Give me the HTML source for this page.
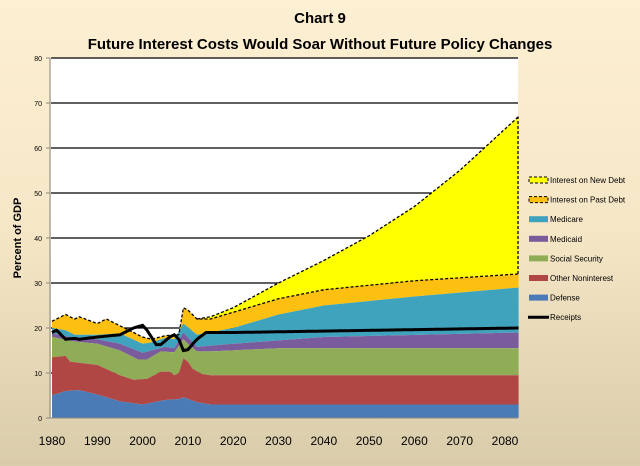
<!DOCTYPE html>
<html><head><meta charset="utf-8"><style>
html,body{margin:0;padding:0}
body{width:640px;height:466px;overflow:hidden;background:linear-gradient(#fdf0d2 0%,#f5e6c6 50%,#d9ccaa 100%);font-family:"Liberation Sans",sans-serif}
</style></head><body>
<svg id="s" width="640" height="466" xmlns="http://www.w3.org/2000/svg" style="position:absolute;left:0;top:0">
<text x="320" y="23" text-anchor="middle" font-size="15" font-weight="bold" font-family="Liberation Sans,sans-serif">Chart 9</text>
<text x="320" y="49" text-anchor="middle" font-size="15" font-weight="bold" font-family="Liberation Sans,sans-serif">Future Interest Costs Would Soar Without Future Policy Changes</text>
<rect x="51" y="58" width="467" height="360" fill="#fff"/>
<g id="grid"></g>
<g id="areas"></g>
<g id="ax"></g>
<text transform="translate(21,238) rotate(-90)" text-anchor="middle" font-size="11" font-weight="bold">Percent of GDP</text>
<g id="leg" font-size="8"></g>
</svg>
<script>
var NS="http://www.w3.org/2000/svg";
function X(y){return 52+(y-1980)*4.53}
function Y(v){return 418-v*4.5}
function el(p,t,a,txt){var e=document.createElementNS(NS,t);for(var k in a)e.setAttribute(k,a[k]);if(txt)e.textContent=txt;document.getElementById(p).appendChild(e);return e}
function interp(pts,yr){for(var i=0;i<pts.length-1;i++){if(yr>=pts[i][0]&&yr<=pts[i+1][0]){var t=(yr-pts[i][0])/(pts[i+1][0]-pts[i][0]);return pts[i][1]+t*(pts[i+1][1]-pts[i][1]);}}return pts[pts.length-1][1]}
var yrs=[];for(var y=1980;y<=2083;y+=0.5)yrs.push(y);
var S={
def:[[1980,5],[1983,6],[1986,6.2],[1990,5.2],[1995,3.7],[2000,3],[2005,4],[2008,4.2],[2009,4.6],[2012,3.5],[2015,3],[2083,3]],
oth:[[1980,13.5],[1983,13.8],[1984,12.5],[1990,11.8],[1995,9.5],[1998,8.5],[2001,8.7],[2004,10.3],[2006,10.3],[2007,9.5],[2008,10],[2009,13.3],[2010,12.5],[2011,11],[2013,9.8],[2015,9.5],[2083,9.5]],
ss:[[1980,18],[1985,17],[1990,16.5],[1995,15],[1999,13],[2001,13],[2004,14.8],[2007,14.6],[2009,17.5],[2010,16.5],[2012,14.8],[2015,14.8],[2030,15.5],[2083,15.5]],
mcd:[[1980,18.8],[1985,17.8],[1990,17.5],[1995,16.5],[2000,14.5],[2005,15.8],[2007,15.5],[2009,19],[2012,15.8],[2020,16.5],[2040,18],[2083,19]],
mcr:[[1980,20],[1983,19.5],[1985,18.5],[1990,18.5],[1995,18.8],[2000,16.5],[2002,16.8],[2005,17.8],[2007,17.5],[2009,21],[2012,18.5],[2020,20],[2030,23],[2040,25],[2050,26],[2060,27],[2083,29]],
past:[[1980,21.5],[1983,23],[1985,22],[1986,22.5],[1990,21],[1992,22],[1995,20.5],[2000,18],[2002,17.5],[2005,18.3],[2008,18.5],[2009,24.5],[2010,24],[2012,22],[2015,22],[2020,23.5],[2030,26.5],[2040,28.5],[2050,29.5],[2060,30.5],[2083,32]],
nw:[[2012,22],[2015,22.5],[2020,24.5],[2030,30],[2040,35],[2050,40.5],[2060,47],[2070,55],[2083,67]],
rec:[[1980,19],[1981,19.5],[1983,17.5],[1985,17.7],[1986,17.5],[1990,18],[1995,18.5],[1998,20],[2000,20.6],[2001,19.5],[2003,16.3],[2004,16.3],[2006,18],[2007,18.5],[2008,17.5],[2009,15],[2010,15.2],[2012,17.5],[2014,19],[2020,19],[2083,20]]};
for(var v=10;v<=80;v+=10)el("grid","line",{x1:51,x2:518,y1:Y(v),y2:Y(v),stroke:"#000","stroke-width":1.3});
function line(key,y0,y1){var p="";yrs.forEach(function(y,i){if(y<y0||y>y1)return;p+=(p?"L":"M")+X(y).toFixed(1)+","+Y(interp(S[key],y)).toFixed(1)});return p}
function area(top,bot,col,y0){y0=y0||1980;var p=line(top,y0,2083);var rev=yrs.filter(function(y){return y>=y0}).reverse();rev.forEach(function(y){p+="L"+X(y).toFixed(1)+","+(bot?Y(interp(S[bot],y)):418).toFixed(1)});el("areas","path",{d:p+"Z",fill:col})}
area("nw","past","#ffff00",2012);
area("past","mcr","#fdbf10");
area("mcr","mcd","#3fa3bd");
area("mcd","ss","#7a5c9c");
area("ss","oth","#8fad57");
area("oth","def","#b04745");
area("def",null,"#4a7bb6");
el("areas","path",{d:line("past",1980,2083),fill:"none",stroke:"#000","stroke-width":1.3,"stroke-dasharray":"3,2"});
el("areas","path",{d:line("nw",2012,2083),fill:"none",stroke:"#000","stroke-width":1.3,"stroke-dasharray":"3,2"});
el("areas","line",{x1:518,x2:518,y1:Y(32),y2:Y(67),stroke:"#000","stroke-width":1.3,"stroke-dasharray":"3,2"});
el("areas","path",{d:line("rec",1980,2083),fill:"none",stroke:"#000","stroke-width":3});
el("ax","line",{x1:50,x2:50,y1:58,y2:418,stroke:"#888","stroke-width":1});
el("ax","line",{x1:50,x2:518,y1:418,y2:418,stroke:"#888","stroke-width":1});
for(var v=0;v<=80;v+=10){el("ax","line",{x1:46,x2:50,y1:Y(v),y2:Y(v),stroke:"#888"});el("ax","text",{x:42,y:Y(v)+3,"text-anchor":"end","font-size":7},String(v));}
for(var y=1980;y<=2080;y+=10)el("ax","text",{x:X(y),y:445,"text-anchor":"middle","font-size":12},String(y));
var L=[["Interest on New Debt","#ffff00",1],["Interest on Past Debt","#fdbf10",1],["Medicare","#3fa3bd"],["Medicaid","#7a5c9c"],["Social Security","#8fad57"],["Other Noninterest","#b04745"],["Defense","#4a7bb6"],["Receipts",null]];
L.forEach(function(l,i){var yy=180+i*19.6;
if(l[1]){el("leg","rect",{x:529,y:yy-3,width:19,height:6,fill:l[1]});if(l[2])el("leg","rect",{x:529,y:yy-3,width:19,height:6,fill:"none",stroke:"#000","stroke-dasharray":"3,2"});}
else el("leg","line",{x1:528,x2:549,y1:yy,y2:yy,stroke:"#000","stroke-width":3});
el("leg","text",{x:550,y:yy+3},l[0]);});
</script>
</body></html>
